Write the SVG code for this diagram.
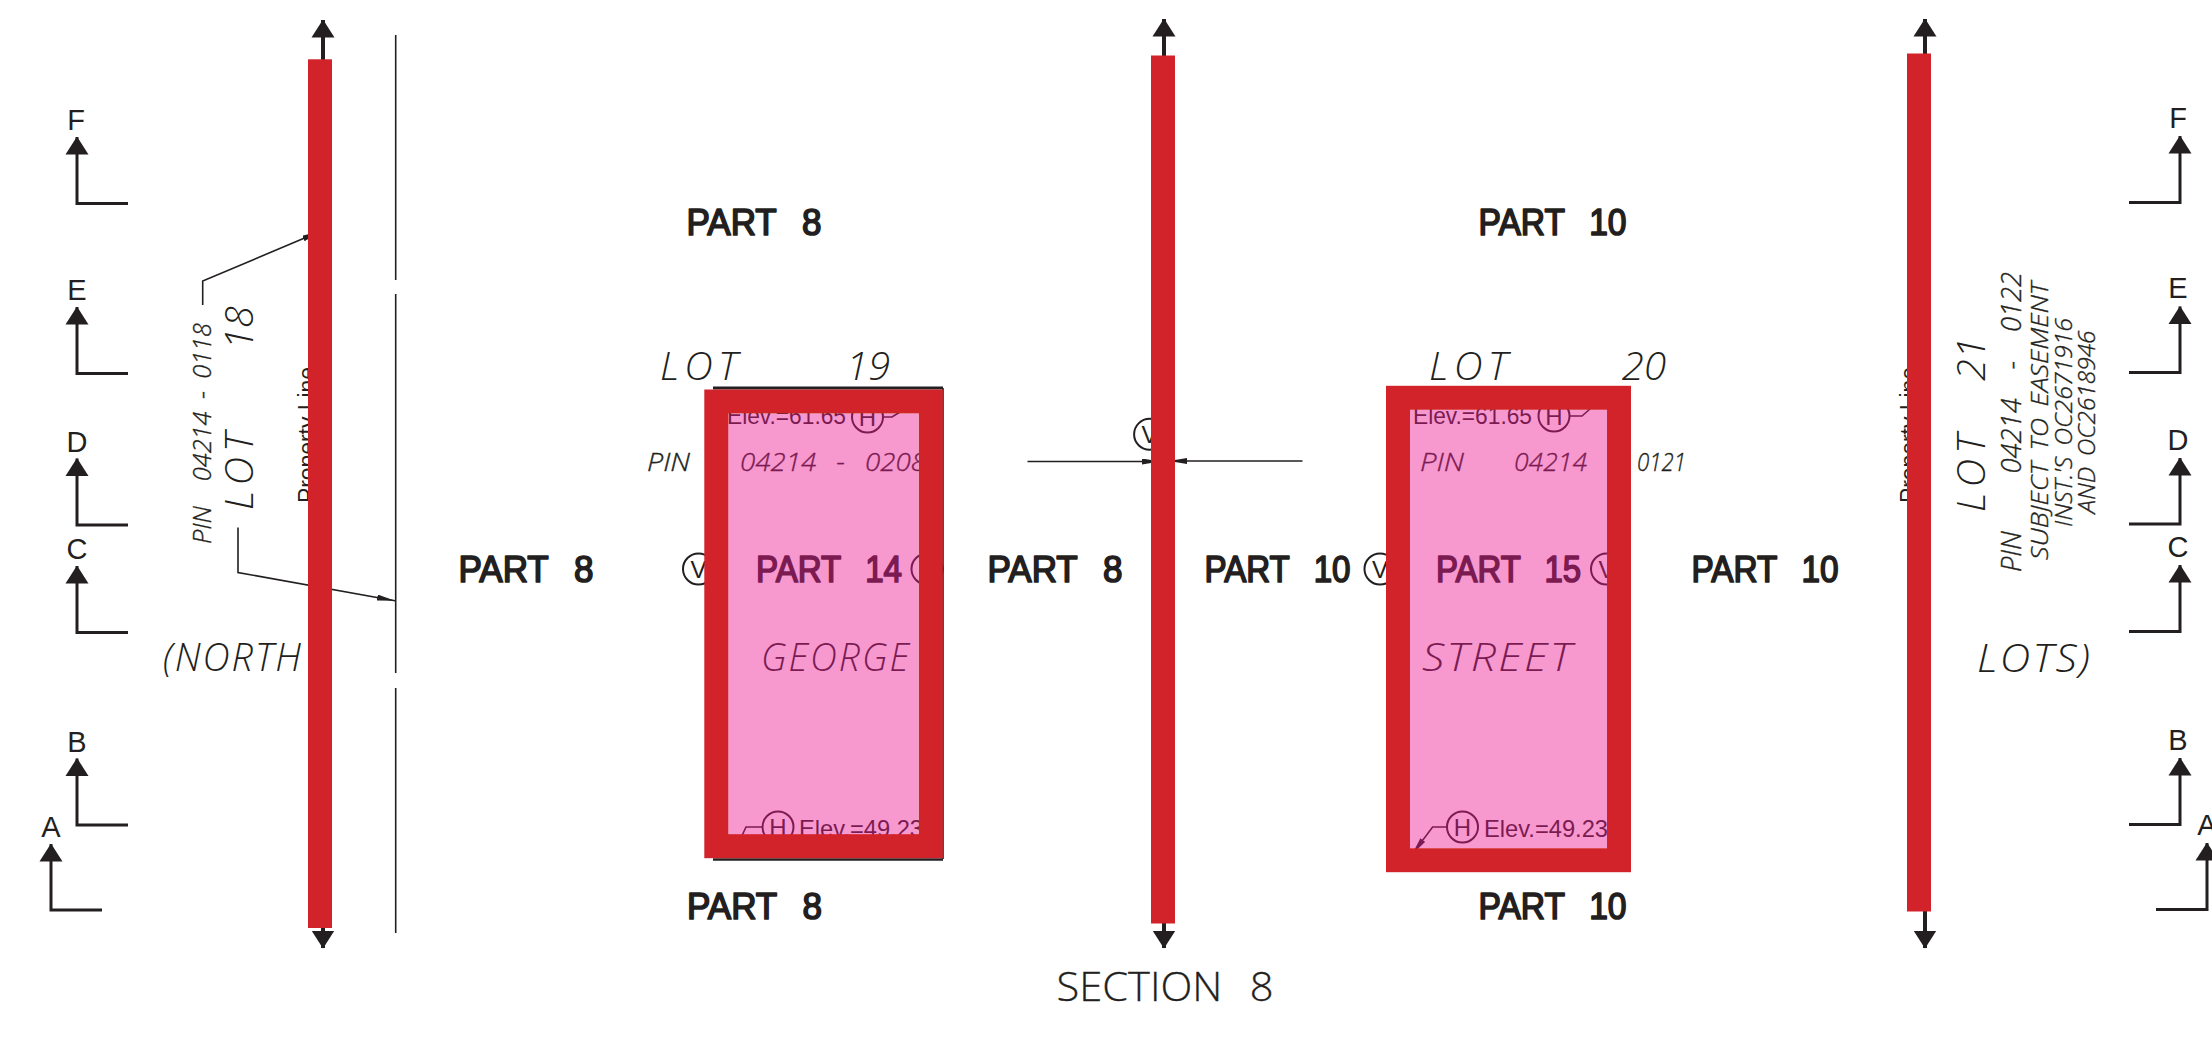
<svg xmlns="http://www.w3.org/2000/svg" width="2212" height="1038" viewBox="0 0 2212 1038">
<style>
text{fill:#231f20;font-family:"Liberation Sans",Arial,sans-serif}
.thin{font-family:"Open Sans","Liberation Sans",sans-serif;font-weight:300;font-style:italic}
.big{font-size:39px;letter-spacing:2px}
.lot{font-size:39px}
.wide{letter-spacing:5px}
.pin{font-size:26px;stroke:#231f20;stroke-width:.35px;white-space:pre}
.sm{font-size:23px}
.thin.sm{stroke:#231f20;stroke-width:.35px}
.part{font-size:37px;stroke:#231f20;stroke-width:1.7px;stroke-linejoin:round;word-spacing:17px}
.elev{font-size:24px}
.sec{font-size:29px}
.c{fill:none;stroke:#231f20;stroke-width:2}
.v{font-size:24px;text-anchor:middle}
.line{fill:none;stroke:#231f20;stroke-width:1.6}
.cut{fill:none;stroke:#231f20;stroke-width:3}
.shaft{fill:none;stroke:#231f20;stroke-width:4}
.bar{fill:#d2232a}
.frame{fill:none;stroke:#d2232a;stroke-width:24}
.pink{fill:#ec1691;fill-opacity:.44}
</style>
<defs>
<marker id="head" markerUnits="userSpaceOnUse" markerWidth="18" markerHeight="24" viewBox="0 0 18 24" refX="17.5" refY="12" orient="auto"><polygon points="0,0.5 18,12 0,23.5" fill="#231f20"/></marker>
<marker id="tick" markerUnits="userSpaceOnUse" markerWidth="18" markerHeight="6" viewBox="0 0 18 6" refX="18" refY="3" orient="auto"><polygon points="0,0 18,3 0,6" fill="#231f20"/></marker>
</defs>
<rect width="2212" height="1038" fill="#fff"/>

<g id="section-marks-left">
<text class="sec" x="76" y="130" text-anchor="middle">F</text>
<text class="sec" x="77" y="300" text-anchor="middle">E</text>
<text class="sec" x="77" y="452" text-anchor="middle">D</text>
<text class="sec" x="77" y="559" text-anchor="middle">C</text>
<text class="sec" x="77" y="752" text-anchor="middle">B</text>
<text class="sec" x="51" y="837" text-anchor="middle">A</text>
<polyline class="cut" marker-end="url(#head)" points="128,203.5 77,203.5 77,137"/>
<polyline class="cut" marker-end="url(#head)" points="128,373.5 77,373.5 77,307"/>
<polyline class="cut" marker-end="url(#head)" points="128,525 77,525 77,458.5"/>
<polyline class="cut" marker-end="url(#head)" points="128,632.5 77,632.5 77,566"/>
<polyline class="cut" marker-end="url(#head)" points="128,825 77,825 77,758.5"/>
<polyline class="cut" marker-end="url(#head)" points="102,910 51,910 51,844"/>
</g>

<g id="section-marks-right">
<text class="sec" x="2178" y="128" text-anchor="middle">F</text>
<text class="sec" x="2178" y="298" text-anchor="middle">E</text>
<text class="sec" x="2178" y="450" text-anchor="middle">D</text>
<text class="sec" x="2178" y="557" text-anchor="middle">C</text>
<text class="sec" x="2178" y="750" text-anchor="middle">B</text>
<text class="sec" x="2207" y="835" text-anchor="middle">A</text>
<polyline class="cut" marker-end="url(#head)" points="2129,202.5 2180,202.5 2180,136"/>
<polyline class="cut" marker-end="url(#head)" points="2129,372.5 2180,372.5 2180,306.5"/>
<polyline class="cut" marker-end="url(#head)" points="2129,524 2180,524 2180,458"/>
<polyline class="cut" marker-end="url(#head)" points="2129,631.5 2180,631.5 2180,565"/>
<polyline class="cut" marker-end="url(#head)" points="2129,824.5 2180,824.5 2180,758"/>
<polyline class="cut" marker-end="url(#head)" points="2156,909.5 2207,909.5 2207,843"/>
</g>

<g id="lot-18">
<text class="thin pin" transform="translate(211,544) rotate(-90)" textLength="221" lengthAdjust="spacingAndGlyphs" word-spacing="6">PIN  04214 - 0118</text>
<text class="thin lot" transform="translate(253,510) rotate(-90)" textLength="204" lengthAdjust="spacingAndGlyphs" word-spacing="66"><tspan class="wide">LOT</tspan> 18</text>
<text class="thin big" x="163" y="671" textLength="140" lengthAdjust="spacingAndGlyphs">(NORTH</text>
<text class="sm" transform="translate(315,503) rotate(-90)" textLength="136" lengthAdjust="spacingAndGlyphs">Property Line</text>
</g>

<g id="lot-21">
<text class="thin pin" style="font-size:27px" transform="translate(2020.5,572) rotate(-90)" textLength="300" lengthAdjust="spacingAndGlyphs" word-spacing="21.5">PIN  04214 - 0122</text>
<text class="thin lot" transform="translate(1985,512) rotate(-90)" textLength="175" lengthAdjust="spacingAndGlyphs" word-spacing="37"><tspan class="wide">LOT</tspan> 21</text>
<text class="thin sm" transform="translate(2047.5,560) rotate(-90)" textLength="278" lengthAdjust="spacingAndGlyphs" word-spacing="4">SUBJECT TO EASEMENT</text>
<text class="thin sm" transform="translate(2071.5,527) rotate(-90)" textLength="209" lengthAdjust="spacingAndGlyphs" word-spacing="4">INST.'S OC2671916</text>
<text class="thin sm" transform="translate(2095,513.5) rotate(-90)" textLength="183" lengthAdjust="spacingAndGlyphs" word-spacing="4">AND OC2618946</text>
<text class="thin big" x="1977" y="671.5" textLength="115" lengthAdjust="spacingAndGlyphs">LOTS)</text>
<text class="sm" transform="translate(1917,503) rotate(-90)" textLength="136" lengthAdjust="spacingAndGlyphs">Property Line</text>
</g>

<g id="parts">
<text class="part" x="458.5" y="581.5" textLength="135" lengthAdjust="spacingAndGlyphs">PART 8</text>
<text class="part" x="686.5" y="235" textLength="135" lengthAdjust="spacingAndGlyphs">PART 8</text>
<text class="part" x="687" y="919" textLength="135" lengthAdjust="spacingAndGlyphs">PART 8</text>
<text class="part" x="987.5" y="581.5" textLength="135" lengthAdjust="spacingAndGlyphs">PART 8</text>
<text class="part" x="1204.5" y="581.5" textLength="146" lengthAdjust="spacingAndGlyphs">PART 10</text>
<text class="part" x="1478.5" y="235" textLength="148" lengthAdjust="spacingAndGlyphs">PART 10</text>
<text class="part" x="1478.5" y="918.5" textLength="148" lengthAdjust="spacingAndGlyphs">PART 10</text>
<text class="part" x="1691.5" y="581.5" textLength="147" lengthAdjust="spacingAndGlyphs">PART 10</text>
</g>

<g id="title">
<text class="sec" style="font-family:'Open Sans','Liberation Sans',sans-serif;font-weight:300;font-size:40px;stroke:#231f20;stroke-width:.3px" x="1056.5" y="1001" textLength="217" lengthAdjust="spacingAndGlyphs" word-spacing="16">SECTION 8</text>
</g>

<g id="part-14">
<text class="thin lot" x="660" y="380" textLength="230" lengthAdjust="spacingAndGlyphs" word-spacing="92"><tspan class="wide">LOT</tspan> 19</text>
<text class="thin pin" x="647" y="470.5" textLength="43" lengthAdjust="spacingAndGlyphs">PIN</text>
<text class="thin pin" x="740" y="470.5" textLength="186" lengthAdjust="spacingAndGlyphs" word-spacing="12">04214 - 0208</text>
<text class="elev" x="727" y="424" textLength="119" lengthAdjust="spacingAndGlyphs">Elev.=61.65</text>
<circle class="c" cx="867.5" cy="417" r="15.5"/><text class="v" x="867.5" y="426">H</text>
<polyline class="line" points="883,417 892,417 900,412"/>
<circle class="c" cx="698.5" cy="569" r="15.5"/><text class="v" x="698.5" y="578">V</text>
<text class="part" x="756" y="581.5" textLength="146" lengthAdjust="spacingAndGlyphs">PART 14</text>
<circle class="c" cx="927" cy="569" r="15.5"/><text class="v" x="927" y="578">V</text>
<text class="thin big" x="761" y="670.5" textLength="150" lengthAdjust="spacingAndGlyphs">GEORGE</text>
<circle class="c" cx="778" cy="827" r="15.5"/><text class="v" x="778" y="836">H</text>
<text class="elev" x="799" y="837" textLength="124" lengthAdjust="spacingAndGlyphs">Elev.=49.23</text>
<polyline class="line" points="762.5,827 746,827 740,840"/>
<polyline class="line" points="713,388 943,388" style="stroke-width:3"/>
<polyline class="line" points="943,388 943,859"/>
<polyline class="line" points="943,859.5 713,859.5" style="stroke-width:2.6"/>
<rect class="pink" x="728.2" y="413.7" width="190.4" height="421.3"/>
<rect class="frame" x="716.3" y="401.5" width="214.5" height="444.7"/>
</g>

<g id="part-15">
<text class="thin lot" x="1429" y="380" textLength="237" lengthAdjust="spacingAndGlyphs" word-spacing="96"><tspan class="wide">LOT</tspan> 20</text>
<text class="thin pin" x="1420" y="470.5" textLength="44" lengthAdjust="spacingAndGlyphs">PIN</text>
<text class="thin pin" x="1514" y="470.5" textLength="73" lengthAdjust="spacingAndGlyphs">04214</text>
<text class="thin pin" x="1637" y="470.5" textLength="49" lengthAdjust="spacingAndGlyphs">0121</text>
<text class="elev" x="1413" y="424" textLength="119" lengthAdjust="spacingAndGlyphs">Elev.=61.65</text>
<circle class="c" cx="1554" cy="416" r="15.5"/><text class="v" x="1554" y="425">H</text>
<polyline class="line" points="1569.5,416 1582,416 1590,409"/>
<circle class="c" cx="1380" cy="569" r="15.5"/><text class="v" x="1380" y="578">V</text>
<text class="part" x="1436" y="581.5" textLength="145" lengthAdjust="spacingAndGlyphs">PART 15</text>
<circle class="c" cx="1606.5" cy="569" r="15.5"/><text class="v" x="1606.5" y="578">V</text>
<text class="thin big" x="1422" y="671" textLength="152" lengthAdjust="spacingAndGlyphs">STREET</text>
<circle class="c" cx="1462.5" cy="827" r="15.5"/><text class="v" x="1462.5" y="836">H</text>
<text class="elev" x="1484" y="837" textLength="124" lengthAdjust="spacingAndGlyphs">Elev.=49.23</text>
<polyline class="line" marker-end="url(#tick)" points="1447,827 1432.6,827 1412,854.4"/>
<rect class="pink" x="1410" y="410" width="197" height="438"/>
<rect class="frame" x="1398" y="397.8" width="221" height="462.4"/>
</g>

<g id="connectors">
<polyline class="line" points="395.7,35 395.7,280"/>
<polyline class="line" points="395.7,294 395.7,673"/>
<polyline class="line" points="395.7,688 395.7,933"/>
<polyline class="line" marker-end="url(#tick)" points="202.7,305 202.7,281 320,231.5"/>
<polyline class="line" marker-end="url(#tick)" points="238,527.5 238,572.5 395,600.7"/>
<polyline class="line" marker-end="url(#tick)" points="1027.5,461.5 1160,461.5"/>
<polyline class="line" marker-end="url(#tick)" points="1302.5,461 1169,461"/>
<circle class="c" cx="1149.6" cy="434.3" r="15.5"/><text class="v" x="1149.6" y="443">V</text>
<polyline class="shaft" marker-end="url(#head)" points="323,60 323,20"/>
<polyline class="shaft" marker-end="url(#head)" points="323,927 323,948"/>
<polyline class="shaft" marker-end="url(#head)" points="1164,56 1164,19"/>
<polyline class="shaft" marker-end="url(#head)" points="1164,922 1164,948"/>
<polyline class="shaft" marker-end="url(#head)" points="1925,54 1925,19"/>
<polyline class="shaft" marker-end="url(#head)" points="1925,911 1925,948"/>
</g>

<g id="section-lines">
<rect class="bar" x="308" y="59.3" width="24" height="868.7"/>
<rect class="bar" x="1151" y="55.5" width="24" height="868"/>
<rect class="bar" x="1907" y="53.5" width="24" height="858"/>
</g>
</svg>
